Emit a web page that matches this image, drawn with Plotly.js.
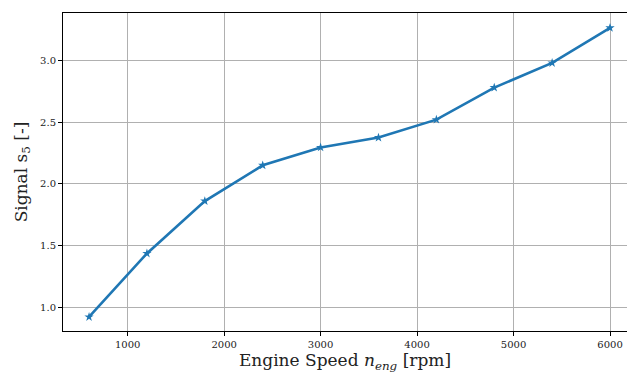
<!DOCTYPE html>
<html>
<head>
<meta charset="utf-8">
<script src="https://cdn.plot.ly/plotly-3.0.1.min.js"></script>
<style>html,body{margin:0;padding:0;background:#fff;}#chart{width:627px;height:374px;}</style>
</head>
<body>
<div id="chart"></div>
<script>
const engineSpeed = [600, 1200, 1800, 2400, 3000, 3600, 4200, 4800, 5400, 6000];
const signalS5 = [0.92, 1.435, 1.86, 2.15, 2.295, 2.375, 2.52, 2.78, 2.98, 3.265];
const xTicks = [1000, 2000, 3000, 4000, 5000, 6000];
const yTicks = [1.0, 1.5, 2.0, 2.5, 3.0];

const font = "'DejaVu Serif', 'Liberation Serif', serif";
Plotly.newPlot('chart', [{
  x: engineSpeed, y: signalS5, type: 'scatter', mode: 'lines+markers',
  line: {color: '#1f77b4', width: 2.6},
  marker: {symbol: 'star', size: 7, color: '#1f77b4'},
  hoverinfo: 'none'
}], {
  width: 627, height: 374,
  margin: {l: 63, r: 0, t: 13, b: 43},
  paper_bgcolor: '#fff', plot_bgcolor: '#fff',
  showlegend: false,
  font: {family: font, color: '#222'},
  xaxis: {
    range: [330, 6176], tickvals: xTicks, ticktext: xTicks.map(String),
    showgrid: true, gridcolor: '#b0b0b0', gridwidth: 1,
    showline: true, linecolor: '#000', linewidth: 1, mirror: true,
    ticks: 'outside', ticklen: 4, tickcolor: '#000',
    tickfont: {size: 10, family: font, color: '#222'}, zeroline: false,
    title: {text: 'Engine Speed <i>n<sub>eng</sub></i> [rpm]', font: {size: 17, family: font, color: '#222'}, standoff: 3}
  },
  yaxis: {
    range: [0.806, 3.385], tickvals: yTicks, ticktext: yTicks.map(v => v.toFixed(1)),
    showgrid: true, gridcolor: '#b0b0b0', gridwidth: 1,
    showline: true, linecolor: '#000', linewidth: 1, mirror: false,
    ticks: 'outside', ticklen: 4, tickcolor: '#000',
    tickfont: {size: 10, family: font, color: '#222'}, zeroline: false,
    title: {text: 'Signal s<sub>5</sub> [-]', font: {size: 17, family: font, color: '#222'}, standoff: 8}
  }
}, {staticPlot: true});
</script>
</body>
</html>
